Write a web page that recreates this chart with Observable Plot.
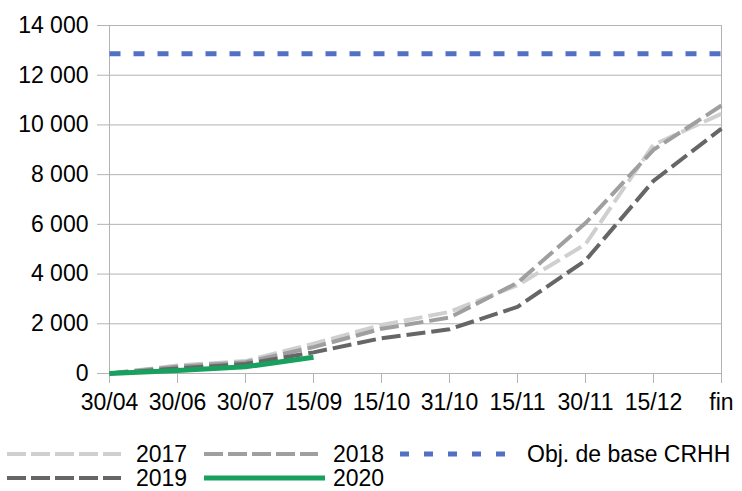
<!DOCTYPE html>
<html>
<head>
<meta charset="utf-8">
<script src="https://cdn.jsdelivr.net/npm/d3@7"></script>
<script src="https://cdn.jsdelivr.net/npm/@observablehq/plot@0.6"></script>
<style>
  body { margin: 0; background: #fff; font-family: "Liberation Sans", Arial, sans-serif; overflow: hidden; }
  #wrap { position: relative; width: 742px; height: 491px; }
  .leg { position: absolute; display: flex; align-items: center; font-size: 23px; line-height: 20px; color: #000; height: 20px; }
  .leg svg { display: block; }
</style>
</head>
<body>
<div id="wrap"></div>
<script>
const categories = ["30/04", "30/06", "30/07", "15/09", "15/10", "31/10", "15/11", "30/11", "15/12", "fin"];
const s2017 = [0, 320, 500, 1200, 1950, 2480, 3550, 5200, 9200, 10450];
const s2018 = [0, 280, 450, 1060, 1800, 2250, 3650, 6050, 9000, 10780];
const s2019 = [0, 200, 380, 850, 1420, 1780, 2680, 4550, 7750, 9850];
const s2020 = [0, 120, 270, 650];
const objective = 12860;
const yTicks = [0, 2000, 4000, 6000, 8000, 10000, 12000, 14000];

const series = [
  {name: "2017", values: s2017, color: "#cfcfcf", width: 4, dash: "19,6"},
  {name: "2018", values: s2018, color: "#9f9f9f", width: 4, dash: "19,6"},
  {name: "Obj. de base CRHH", values: categories.map(() => objective), color: "#5470c2", width: 5, dash: "11,13"},
  {name: "2019", values: s2019, color: "#666666", width: 4, dash: "19,6"},
  {name: "2020", values: s2020, color: "#17a05e", width: 5, dash: null}
];

const fmt = d3.formatLocale({decimal: ",", thousands: " ", grouping: [3], currency: ["", " €"]}).format(",d");

const lineMarks = series.map(s =>
  Plot.line(s.values.map((v, i) => ({x: categories[i], y: v})), {
    x: "x", y: "y", stroke: s.color, strokeWidth: s.width,
    strokeDasharray: s.dash, strokeLinecap: "butt", strokeLinejoin: "round"
  })
);

const chart = Plot.plot({
  width: 742,
  height: 435,
  marginTop: 25,
  marginBottom: 62,
  marginLeft: 108,
  marginRight: 20,
  style: {fontFamily: "Liberation Sans, Arial, sans-serif", fontSize: "23px", color: "#000", background: "#fff"},
  x: {type: "point", domain: categories, padding: 0},
  y: {domain: [0, 14000]},
  marks: [
    Plot.gridY(yTicks, {stroke: "#b3b3b3", strokeOpacity: 1, strokeWidth: 1}),
    Plot.ruleX([categories[0], categories[categories.length - 1]], {stroke: "#b3b3b3", strokeWidth: 1}),
    Plot.axisY(yTicks, {tickFormat: fmt, tickSize: 11, tickPadding: 9, stroke: "#b3b3b3", fill: "#000", label: null, fontSize: 23}),
    Plot.axisX(categories, {tickSize: 10, tickPadding: 10, stroke: "#b3b3b3", fill: "#000", label: null, fontSize: 23}),
    ...lineMarks
  ]
});

const wrap = document.getElementById("wrap");
wrap.appendChild(chart);

// Legend
const legendItems = [
  {s: series[0], left: 7, top: 444, sw: 114, gap: 15},
  {s: series[1], left: 204, top: 444, sw: 114, gap: 15},
  {s: series[2], left: 400, top: 444, sw: 117, gap: 10},
  {s: series[3], left: 7, top: 468, sw: 114, gap: 15},
  {s: series[4], left: 204, top: 468, sw: 121, gap: 8}
];
legendItems.forEach(({s, left, top, sw, gap}) => {
  const div = document.createElement("div");
  div.className = "leg";
  div.style.left = left + "px";
  div.style.top = top + "px";
  const svg = d3.create("svg").attr("width", sw).attr("height", 10);
  svg.append("line").attr("x1", 0).attr("x2", sw).attr("y1", 5).attr("y2", 5)
    .attr("stroke", s.color).attr("stroke-width", s.width)
    .attr("stroke-dasharray", s.dash ? (s.name.startsWith("Obj") ? "9,15" : "19,5") : null);
  div.appendChild(svg.node());
  const span = document.createElement("span");
  span.textContent = s.name;
  span.style.marginLeft = gap + "px";
  div.appendChild(span);
  wrap.appendChild(div);
});
</script>
</body>
</html>
